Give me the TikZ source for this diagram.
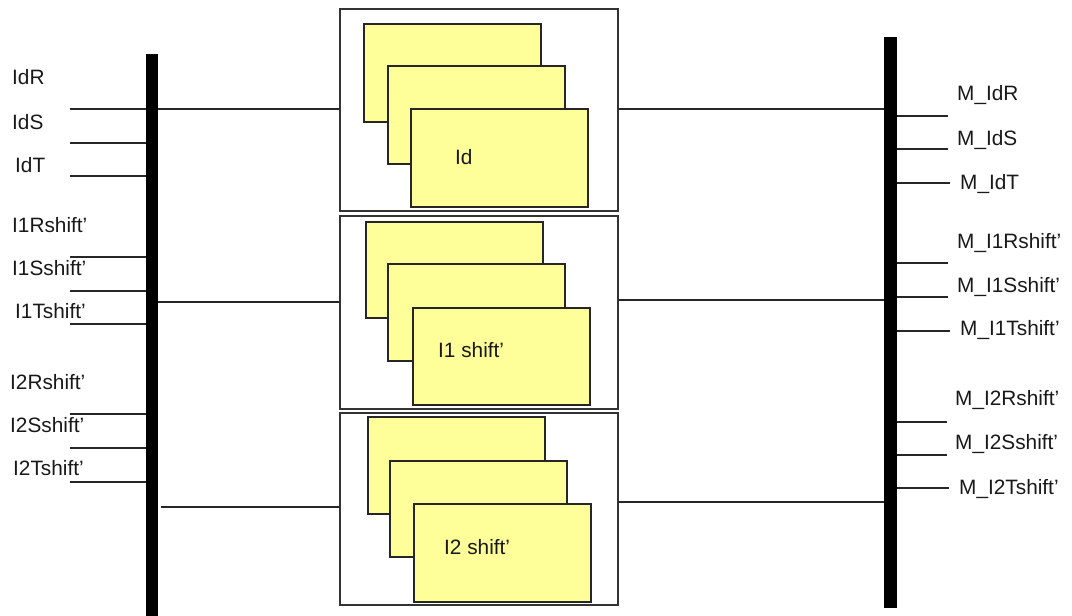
\documentclass[tikz,border=0pt]{standalone}
\usepackage{fontspec}
\setmainfont{Liberation Sans}
\definecolor{cardyellow}{HTML}{FFFF99}
\begin{document}
\begin{tikzpicture}[x=1pt,y=-1pt,
 wire/.style={line width=1.8pt, draw=black!85},
 bus/.style={fill=black, draw=none, inner sep=0pt, anchor=north west},
 frame/.style={draw=black!80, line width=1.8pt, fill=white, inner sep=0pt, minimum width=278pt, anchor=north west},
 card/.style={draw=black!85, line width=1.8pt, fill=cardyellow, inner sep=0pt, minimum width=177pt, anchor=north west},
 lab/.style={anchor=base west, inner sep=0pt, font=\fontsize{20.8}{24}\selectfont, text=black!90}
]
\useasboundingbox (0,0) rectangle (1072,616);

% buses
\node[bus, minimum width=12pt, minimum height=562pt] (lbus) at (146,54) {};
\node[bus, minimum width=13pt, minimum height=571pt] (rbus) at (884,37) {};

% frames
\node[frame, minimum height=202pt] (f1) at (339,8) {};
\node[frame, minimum height=193pt] (f2) at (339,215) {};
\node[frame, minimum height=192pt] (f3) at (339,412) {};

% cards
\node[card, minimum height=98pt] (c11) at (363,23) {};
\node[card, minimum height=98pt] (c12) at (387,65) {};
\node[card, minimum height=98pt] (c13) at (410,108) {};
\node[card, minimum height=96pt] (c21) at (365,221) {};
\node[card, minimum height=97pt] (c22) at (387,263) {};
\node[card, minimum height=97pt] (c23) at (412,307) {};
\node[card, minimum height=97pt] (c31) at (367,416) {};
\node[card, minimum height=96pt] (c32) at (389,460) {};
\node[card, minimum height=98pt] (c33) at (413,503) {};
\node[lab] (t1) at (455,164) {Id};
\node[lab] (t2) at (438,357) {I1 shift’};
\node[lab] (t3) at (444,554) {I2 shift’};

% left inputs
\foreach \y/\n in {109/a,143/b,176/c,257/d,291/e,324/f,414/g,448/h,482/i}{
  \coordinate (in\n) at (70,\y);
  \draw[wire] (in\n) -- (lbus.west |- in\n);
}
\node[lab] (lIdR) at (12,84) {IdR};
\node[lab] (lIdS) at (12,129) {IdS};
\node[lab] (lIdT) at (15,172) {IdT};
\node[lab] (l1R) at (12,232) {I1Rshift’};
\node[lab] (l1S) at (12,275) {I1Sshift’};
\node[lab] (l1T) at (15,318) {I1Tshift’};
\node[lab] (l2R) at (10,389) {I2Rshift’};
\node[lab] (l2S) at (10,432) {I2Sshift’};
\node[lab] (l2T) at (13,475) {I2Tshift’};

% bus to frames
\coordinate (b1) at (0,109);
\coordinate (b2) at (0,302);
\coordinate (b3) at (0,507);
\draw[wire] (lbus.east |- b1) -- (f1.west |- b1);
\draw[wire] (lbus.east |- b2) -- (f2.west |- b2);
\draw[wire] ([xshift=3pt]lbus.east |- b3) -- (f3.west |- b3);
\coordinate (o1) at (0,109);
\coordinate (o2) at (0,300);
\coordinate (o3) at (0,502);
\draw[wire] (f1.east |- o1) -- (rbus.west |- o1);
\draw[wire] (f2.east |- o2) -- (rbus.west |- o2);
\draw[wire] (f3.east |- o3) -- (rbus.west |- o3);

% right outputs
\foreach \y/\x/\n in {116/948/a,149/948/b,183/950/c,263/948/d,297/948/e,331/950/f,422/947/g,455/947/h,488/949/i}{
  \coordinate (out\n) at (\x,\y);
  \draw[wire] (rbus.east |- out\n) -- (out\n);
}
\node[lab] (rIdR) at (957,100) {M\_IdR};
\node[lab] (rIdS) at (957,145) {M\_IdS};
\node[lab] (rIdT) at (960,189) {M\_IdT};
\node[lab] (r1R) at (957,248) {M\_I1Rshift’};
\node[lab] (r1S) at (957,292) {M\_I1Sshift’};
\node[lab] (r1T) at (960,335) {M\_I1Tshift’};
\node[lab] (r2R) at (955,405) {M\_I2Rshift’};
\node[lab] (r2S) at (955,449) {M\_I2Sshift’};
\node[lab] (r2T) at (959,494) {M\_I2Tshift’};
\end{tikzpicture}
\end{document}
